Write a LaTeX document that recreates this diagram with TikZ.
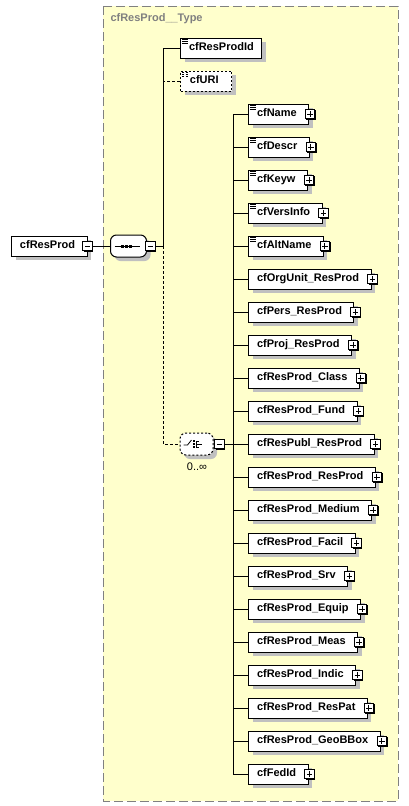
\documentclass[tikz,border=0pt]{standalone}
\usepackage{fontspec}
\setmainfont{Liberation Sans}
\usepackage{xcolor}
\usepackage{tikz}
\usetikzlibrary{shadows,positioning,calc}
\definecolor{typebg}{HTML}{FFFFCC}
\definecolor{typegray}{HTML}{808080}
\definecolor{shadegray}{HTML}{C0C0C0}

\begin{document}
\begin{tikzpicture}[
    x=1pt, y=-1pt, line width=1pt,
    node distance=12pt,
    font=\fontsize{11}{13}\selectfont\bfseries,
    boxshadow/.style={drop shadow={shadow xshift=4pt, shadow yshift=-4pt, fill=shadegray, opacity=1}},
    elem/.style={rectangle, draw, fill=white, boxshadow, minimum height=20pt, inner xsep=0pt, inner ysep=0pt, text height=8pt, text depth=2.3pt, execute at begin node={\hskip8.5pt}, execute at end node={\hskip#1}},
    elem/.default=12pt,
    attr/.style={path picture={\foreach \k in {1.6,3.3,5} \draw[line width=0.7pt] ([shift={(1.5,\k)}]path picture bounding box.north west) -- ++(5.5,0);}},
    optelem/.style={dash pattern=on 2pt off 2pt},
    minusbox/.style={rectangle, draw, fill=white, minimum size=9.5pt, inner sep=0pt, drop shadow={shadow xshift=1pt, shadow yshift=-1pt, fill=black, opacity=1}, path picture={\draw ([xshift=2pt]path picture bounding box.west) -- ([xshift=-2pt]path picture bounding box.east);}},
    plusbox/.style={minusbox, path picture={\draw ([xshift=2pt]path picture bounding box.west) -- ([xshift=-2pt]path picture bounding box.east) ([yshift=2pt]path picture bounding box.south) -- ([yshift=-2pt]path picture bounding box.north);}},
    seqbox/.style={rectangle, draw, fill=white, rounded corners=6pt, boxshadow, minimum width=36pt, minimum height=22pt, inner sep=0pt},
    choicebox/.style={seqbox, minimum width=33pt, dash pattern=on 2pt off 2pt},
    optline/.style={dash pattern=on 3pt off 2pt},
    typebox/.style={draw=typegray, fill=typebg, dash pattern=on 9pt off 4pt}
]
    \path[use as bounding box, fill=white] (0,0) rectangle (409,806);
    \draw[typebox] (103,6) rectangle (398,801);
    \node[anchor=west, inner sep=0pt, text=typegray] (title) at (110,19) {cfResProd\_\_Type};

    \node[elem, anchor=west] (root) at (11,246) {cfResProd};
    \node[minusbox] (rootm) at (root.east) {};
    \node[seqbox] (seq) at (128.5,246) {};
    \node[minusbox] (seqm) at ([xshift=3.5pt]seq.east) {};
    \coordinate (sbus) at (163,246);

    \node[elem=8pt, attr, anchor=west] (id) at (180,48) {cfResProdId};
    \node[elem, attr, optelem, anchor=west, minimum width=51pt] (uri) at (180,81) {cfURI};

    \node[choicebox] (cho) at (196.5,444) {};
    \node[minusbox] (chom) at ([xshift=6pt]cho.east) {};
    \node[font=\fontsize{11}{13}\selectfont, inner sep=0pt] (occ) at (197,467) {0..∞};
    \coordinate (cbus) at (233,444);

    \node[elem, attr, anchor=west] (c1) at (248,114) {cfName};
    \node[elem, attr, below=of c1.south west, anchor=north west] (c2) {cfDescr};
    \node[elem, attr, below=of c2.south west, anchor=north west] (c3) {cfKeyw};
    \node[elem, attr, below=of c3.south west, anchor=north west] (c4) {cfVersInfo};
    \node[elem, attr, below=of c4.south west, anchor=north west] (c5) {cfAltName};
    \node[elem, below=of c5.south west, anchor=north west] (c6) {cfOrgUnit\_ResProd};
    \node[elem, below=of c6.south west, anchor=north west] (c7) {cfPers\_ResProd};
    \node[elem, below=of c7.south west, anchor=north west] (c8) {cfProj\_ResProd};
    \node[elem, below=of c8.south west, anchor=north west] (c9) {cfResProd\_Class};
    \node[elem, below=of c9.south west, anchor=north west] (c10) {cfResProd\_Fund};
    \node[elem, below=of c10.south west, anchor=north west] (c11) {cfResPubl\_ResProd};
    \node[elem, below=of c11.south west, anchor=north west] (c12) {cfResProd\_ResProd};
    \node[elem, below=of c12.south west, anchor=north west] (c13) {cfResProd\_Medium};
    \node[elem, below=of c13.south west, anchor=north west] (c14) {cfResProd\_Facil};
    \node[elem, below=of c14.south west, anchor=north west] (c15) {cfResProd\_Srv};
    \node[elem, below=of c15.south west, anchor=north west] (c16) {cfResProd\_Equip};
    \node[elem, below=of c16.south west, anchor=north west] (c17) {cfResProd\_Meas};
    \node[elem, below=of c17.south west, anchor=north west] (c18) {cfResProd\_Indic};
    \node[elem, below=of c18.south west, anchor=north west] (c19) {cfResProd\_ResPat};
    \node[elem, below=of c19.south west, anchor=north west] (c20) {cfResProd\_GeoBBox};
    \node[elem, below=of c20.south west, anchor=north west] (c21) {cfFedId};
    \foreach \i in {1,...,21}
        \node[plusbox] (p\i) at ([xshift=1pt]c\i.east) {};

    \draw ([xshift=-14pt]seq.center) -- ([xshift=11pt]seq.center);
    \foreach \k in {-6,-2,2}
        \fill ([shift={(\k-1.5,-1.5)}]seq.center) rectangle ++(3,3);
    \draw[line width=0.8pt] ([shift={(-13,1)}]cho.center) -- ++(4,0) -- ++(4,-5);
    \foreach \k in {-3,0,3}
        \fill ([shift={(-3.5,\k-0.7)}]cho.center) rectangle ++(1.5,1.5);
    \draw[line width=0.8pt] ([shift={(2,-3)}]cho.center) -- ++(-2,0) -- ++(0,6) -- ++(2,0)
        (cho.center) -- ++(5,0);

    \draw (rootm.east) -- (seq.west);
    \draw (seqm.east) -- (sbus);
    \draw (id.west) -- (id.west -| sbus) -- (sbus);
    \draw[optline] (uri.west) -- (uri.west -| sbus);
    \draw[optline] (sbus) -- (sbus |- cho.west) -- (cho.west);
    \draw (chom.east) -- (cbus);
    \draw (c1.west -| cbus) -- (c21.west -| cbus);
    \foreach \i in {1,...,21}
        \draw (c\i.west -| cbus) -- (c\i.west);
\end{tikzpicture}
\end{document}
